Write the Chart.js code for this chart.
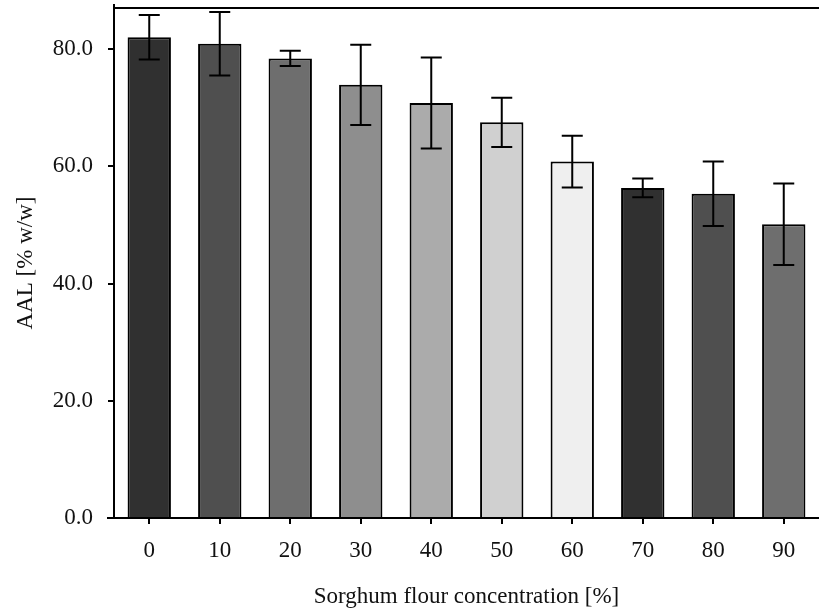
<!DOCTYPE html>
<html lang="en">
<head>
    <meta charset="UTF-8">
    <title>AAL vs sorghum flour concentration</title>
    <style>
        body {
            margin: 0;
            padding: 0;
            background-color: #ffffff;
        }

        #chartBox {
            width: 819px;
            height: 614px;
        }
    </style>
</head>
<body>
    <div id="chartBox">
        <canvas id="aalChart" width="819" height="614"></canvas>
    </div>

    <script src="https://cdn.jsdelivr.net/npm/chart.js"></script>
    <script>
        // data
        const concentrations = ['0', '10', '20', '30', '40', '50', '60', '70', '80', '90'];
        const aalValues = [82.0, 80.9, 78.4, 73.9, 70.8, 67.5, 60.8, 56.3, 55.3, 50.1];
        const aalErrors = [3.8, 5.4, 1.3, 6.85, 7.75, 4.2, 4.4, 1.6, 5.5, 6.95];
        const yTicks = [0, 20, 40, 60, 80];
        const barColors = ['#303030', '#4f4f4f', '#6e6e6e', '#8e8e8e', '#ababab',
                           '#d0d0d0', '#efefef', '#303030', '#4f4f4f', '#6e6e6e'];

        const fontFamily = "'Liberation Serif', 'Times New Roman', serif";

        // error bars + frame bits
        const errorBarPlugin = {
            id: 'errorBars',
            afterDatasetsDraw(chart) {
                const ctx = chart.ctx;
                const yScale = chart.scales.y;
                const meta = chart.getDatasetMeta(0);
                ctx.save();
                ctx.strokeStyle = '#000';
                ctx.lineWidth = 2;
                meta.data.forEach((bar, i) => {
                    const top = yScale.getPixelForValue(aalValues[i] + aalErrors[i]);
                    const bottom = yScale.getPixelForValue(aalValues[i] - aalErrors[i]);
                    const cap = 10.5;
                    ctx.beginPath();
                    ctx.moveTo(bar.x, top);
                    ctx.lineTo(bar.x, bottom);
                    ctx.moveTo(bar.x - cap, top);
                    ctx.lineTo(bar.x + cap, top);
                    ctx.moveTo(bar.x - cap, bottom);
                    ctx.lineTo(bar.x + cap, bottom);
                    ctx.stroke();
                });
                ctx.restore();
            },
            afterDraw(chart) {
                const ctx = chart.ctx;
                const area = chart.chartArea;
                ctx.save();
                ctx.strokeStyle = '#000';
                ctx.lineWidth = 2;
                ctx.beginPath();
                // top line of the frame
                ctx.moveTo(area.left, area.top);
                ctx.lineTo(area.right, area.top);
                // small extensions of the axes
                ctx.moveTo(area.left, area.top);
                ctx.lineTo(area.left, area.top - 4);
                ctx.moveTo(area.left, area.bottom);
                ctx.lineTo(area.left - 7, area.bottom);
                ctx.stroke();
                ctx.restore();
            }
        };

        const ctx = document.getElementById('aalChart').getContext('2d');
        const chart = new Chart(ctx, {
            type: 'bar',
            data: {
                labels: concentrations,
                datasets: [{
                    data: aalValues,
                    backgroundColor: barColors,
                    borderColor: '#000',
                    borderWidth: 2,
                    barPercentage: 0.615,
                    categoryPercentage: 1.0
                }]
            },
            options: {
                responsive: false,
                animation: false,
                layout: {
                    padding: { top: 8, right: 0, bottom: 0, left: 0 }
                },
                plugins: {
                    legend: { display: false },
                    tooltip: { enabled: false }
                },
                scales: {
                    x: {
                        afterFit(scale) {
                            scale.height = 96;
                            scale.paddingLeft = 0;
                            scale.paddingRight = 0;
                        },
                        grid: {
                            display: true,
                            drawOnChartArea: false,
                            offset: false,
                            color: '#000',
                            lineWidth: 2,
                            tickLength: 6
                        },
                        border: { display: true, color: '#000', width: 2 },
                        ticks: {
                            color: '#111',
                            padding: 13,
                            maxRotation: 0,
                            font: { family: fontFamily, size: 23 }
                        },
                        title: {
                            display: true,
                            text: 'Sorghum flour concentration [%]',
                            color: '#111',
                            padding: { top: 3, bottom: 3 },
                            font: { family: fontFamily, size: 23 }
                        }
                    },
                    y: {
                        min: 0,
                        max: 87,
                        afterFit(scale) {
                            scale.width = 114;
                            scale.paddingTop = 0;
                            scale.paddingBottom = 0;
                        },
                        afterBuildTicks(scale) {
                            scale.ticks = yTicks.map(v => ({ value: v }));
                        },
                        grid: {
                            display: true,
                            drawOnChartArea: false,
                            color: '#000',
                            lineWidth: 2,
                            tickLength: 6
                        },
                        border: { display: true, color: '#000', width: 2 },
                        ticks: {
                            color: '#111',
                            padding: 15,
                            font: { family: fontFamily, size: 23 },
                            callback: value => value.toFixed(1)
                        },
                        title: {
                            display: true,
                            text: 'AAL [% w/w]',
                            color: '#111',
                            padding: { top: 12, bottom: 12 },
                            font: { family: fontFamily, size: 23 }
                        }
                    }
                }
            },
            plugins: [errorBarPlugin]
        });
    </script>
</body>
</html>
